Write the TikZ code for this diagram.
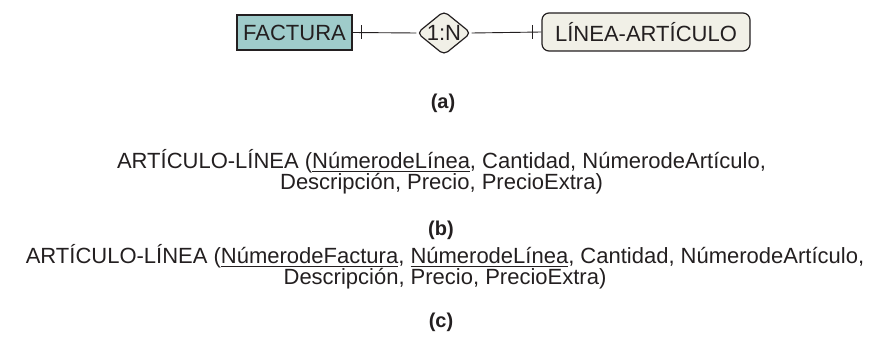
\documentclass[tikz,border=0pt]{standalone}
\usepackage{fontspec}
\setmainfont{Liberation Sans}
\usetikzlibrary{shapes.geometric,calc}
\definecolor{factfill}{RGB}{159,203,202}
\definecolor{creamfill}{RGB}{241,240,231}
\definecolor{ink}{RGB}{35,31,32}
\newcommand\myul[1]{\setbox0\hbox{#1}\rlap{\rule[-3.5pt]{\wd0}{1.1pt}}\box0}
\tikzset{
  base/.style={font=\fontsize{22}{21}\selectfont, text=ink, inner sep=0pt},
  entbox/.style={base, draw=ink, line width=1.2pt, fill=factfill},
  wentbox/.style={base, draw=ink, line width=1.2pt, fill=creamfill, rounded corners=7pt},
  reldiam/.style={diamond, draw=ink, line width=1.2pt, fill=creamfill, rounded corners=5pt, inner sep=0pt},
  conn/.style={draw=ink, line width=0.9pt},
  lbl/.style={base, font=\fontsize{20}{20}\selectfont\bfseries},
  reltext/.style={base, align=center},
}
\begin{document}
\begin{tikzpicture}[x=1pt,y=1pt]
\useasboundingbox (0,0) rectangle (882,-342);
\node[entbox, minimum width=115pt, minimum height=35pt] (fact) at (294.5,-32.5) {FACTURA};
\node[reldiam, minimum width=54pt, minimum height=44pt, label={[base]center:1:N}] (rel) at (444,-33) {};
\node[wentbox, minimum width=208pt, minimum height=38pt] (lin) at (646,-32) {LÍNEA-ARTÍCULO};
\draw[conn] (fact.east) -- (rel.west);
\draw[conn] (rel.east) -- (lin.west);
\coordinate (t1) at ($(fact.east)+(9,0)$);
\coordinate (t2) at ($(lin.west)+(-9,0)$);
\draw[conn] ($(t1)+(0,7)$) -- ($(t1)+(0,-7)$);
\draw[conn] ($(t2)+(0,7)$) -- ($(t2)+(0,-7)$);
\node[lbl] (la) at (443,-103) {(a)};
\node[reltext] (rb) at (441.5,-172) {ARTÍCULO-LÍNEA (\myul{NúmerodeLínea}, Cantidad, NúmerodeArtículo,\\Descripción, Precio, PrecioExtra)};
\node[lbl] (lb) at (441,-230) {(b)};
\node[reltext] (rc) at (445,-267) {ARTÍCULO-LÍNEA (\myul{NúmerodeFactura}, \myul{NúmerodeLínea}, Cantidad, NúmerodeArtículo,\\Descripción, Precio, PrecioExtra)};
\node[lbl] (lc) at (441,-322) {(c)};
\end{tikzpicture}
\end{document}
